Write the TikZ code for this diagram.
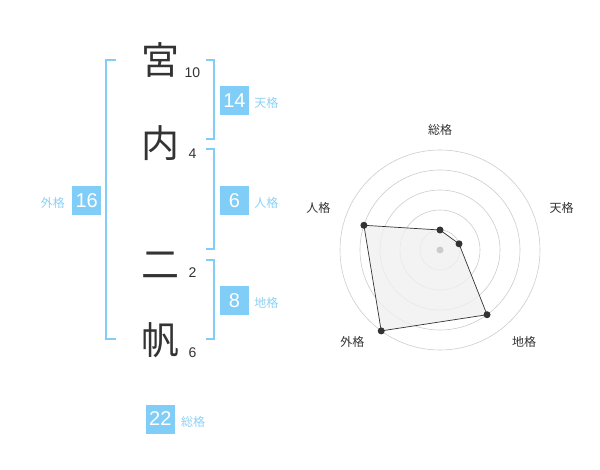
\documentclass[tikz,border=0pt]{standalone}
\usepackage{fontspec}
\setmainfont{Liberation Sans}
\newfontfamily\cjk{Noto Sans CJK JP}
\usetikzlibrary{positioning}

\definecolor{kakublue}{HTML}{80CDF8}
\definecolor{kakutext}{HTML}{8ED0F4}
\definecolor{inkgray}{HTML}{333333}
\definecolor{ringgray}{HTML}{CCCCCC}

\tikzset{
    moji/.style = {text=inkgray, inner sep=0pt, font=\cjk\fontsize{38}{38}\selectfont},
    kakusu/.style = {text=inkgray, inner sep=0pt, font=\fontsize{14}{14}\selectfont},
    kaku/.style = {fill=kakublue, text=white, minimum size=29pt, inner sep=0pt, font=\fontsize{20}{20}\selectfont},
    kakuname/.style = {text=kakutext, inner sep=0pt, yshift=-3pt, font=\cjk\fontsize{12}{12}\selectfont},
    bracket/.style = {draw=kakublue, line width=2pt},
    axisname/.style = {text=inkgray, inner sep=0pt, font=\cjk\fontsize{12}{12}\selectfont},
}

\begin{document}
\begin{tikzpicture}[x=1pt, y=-1pt]
    \useasboundingbox (0,0) rectangle (600,470);

    % name, one char per line
    \node[moji] (c1) at (160,60) {宮};
    \node[moji] (c2) at (160,143) {内};
    \node[moji] (c3) at (160,265) {二};
    \node[moji] (c4) at (160,340) {帆};

    \node[kakusu] (n1) at (192.5,73) {10};
    \node[kakusu] (n2) at (192.5,153.5) {4};
    \node[kakusu] (n3) at (192.5,273) {2};
    \node[kakusu] (n4) at (192.5,353) {6};

    % brackets
    \draw[bracket] (115.7,60) -- (105.7,60) -- (105.7,339.3) -- (115.7,339.3);
    \draw[bracket] (205.7,60) -- (214.3,60) -- (214.3,139.3) -- (205.7,139.3);
    \draw[bracket] (205.7,149.3) -- (214.3,149.3) -- (214.3,249.3) -- (205.7,249.3);
    \draw[bracket] (205.7,260) -- (214.3,260) -- (214.3,339.3) -- (205.7,339.3);

    % totals
    \node[kaku] (ten) at (234.5,100.3) {14};
    \node[kakuname, right=5pt of ten] (tenname) {天格};
    \node[kaku] (jin) at (234.5,200.3) {6};
    \node[kakuname, right=5pt of jin] (jinname) {人格};
    \node[kaku] (chi) at (234.5,300.3) {8};
    \node[kakuname, right=5pt of chi] (chiname) {地格};
    \node[kaku] (gai) at (86.7,200.3) {16};
    \node[kakuname, left=7pt of gai] (gainame) {外格};
    \node[kaku] (sou) at (160.3,419) {22};
    \node[kakuname, right=6pt of sou] (souname) {総格};

    % radar
    \begin{scope}[shift={(440,250)}, yscale=-1]
        \foreach \r in {20,40,...,100}{
            \draw[ringgray, line width=0.6pt] (0,0) circle (\r);
        }
        \coordinate (rsou) at (90:20);
        \coordinate (rten) at (18:20);
        \coordinate (rchi) at (-54:80);
        \coordinate (rgai) at (-126:100);
        \coordinate (rjin) at (162:80);
        \filldraw[fill=black!6, fill opacity=0.8, draw=inkgray, line width=0.7pt]
            (rsou) -- (rten) -- (rchi) -- (rgai) -- (rjin) -- cycle;
        \foreach \p in {rsou,rten,rchi,rgai,rjin}{
            \fill[inkgray] (\p) circle (3.5);
        }
        \fill[ringgray] (0,0) circle (3.5);

        \node[axisname] (lsou) at (0,120) {総格};
        \node[axisname] (lten) at (121.7,41.7) {天格};
        \node[axisname] (lchi) at (84,-91.7) {地格};
        \node[axisname] (lgai) at (-87.7,-91.7) {外格};
        \node[axisname] (ljin) at (-121.7,41.7) {人格};
    \end{scope}
\end{tikzpicture}
\end{document}
